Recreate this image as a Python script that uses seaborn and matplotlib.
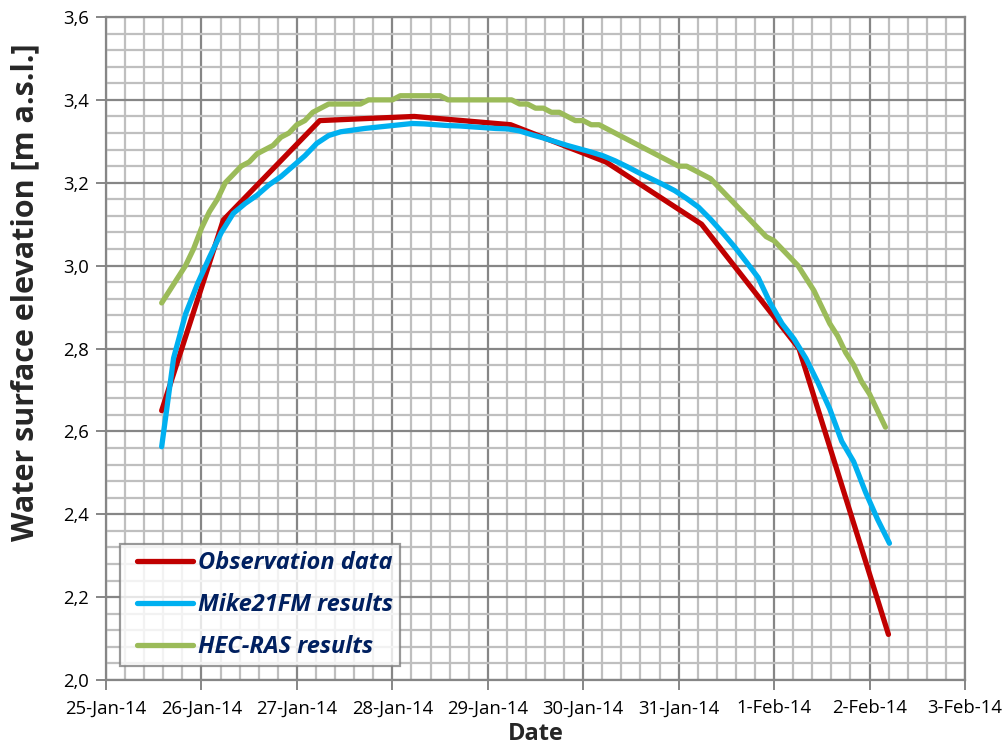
import numpy as np
import pandas as pd
import matplotlib
matplotlib.use("Agg")
import matplotlib.pyplot as plt
import matplotlib.dates as mdates
from matplotlib.lines import Line2D
from matplotlib.legend_handler import HandlerBase
from matplotlib.ticker import MultipleLocator, FuncFormatter
import seaborn as sns

# ---- data -------------------------------------------------------------
obs_times = ["2014-01-25 14:00", "2014-01-26 05:30", "2014-01-27 05:45",
             "2014-01-28 05:30", "2014-01-29 05:45", "2014-01-30 05:45",
             "2014-01-31 05:45", "2014-02-01 06:15", "2014-02-02 04:45"]
obs_level = [2.65, 3.11, 3.35, 3.36, 3.34, 3.25, 3.10, 2.80, 2.11]

# Mike21FM output, 3-hourly from 25-Jan 14:00
mike_start, mike_step = "2014-01-25 14:00", "3h"
mike_level = [2.563, 2.777, 2.883, 2.956, 3.020, 3.080, 3.126, 3.150, 3.170, 3.195,
              3.215, 3.240, 3.265, 3.295, 3.314, 3.323, 3.327, 3.331, 3.334, 3.337,
              3.340, 3.343, 3.342, 3.340, 3.338, 3.337, 3.335, 3.333, 3.331, 3.330,
              3.325, 3.316, 3.308, 3.299, 3.290, 3.282, 3.274, 3.265, 3.253, 3.239,
              3.224, 3.210, 3.196, 3.181, 3.162, 3.141, 3.112, 3.080, 3.046, 3.009,
              2.971, 2.910, 2.860, 2.823, 2.776, 2.718, 2.654, 2.576, 2.527, 2.453,
              2.388, 2.330]

# HEC-RAS output, 2-hourly from 25-Jan 14:00 (reported to 0.01 m)
hec_start, hec_step = "2014-01-25 14:00", "2h"
hec_level = [2.91, 2.94, 2.97, 3.00, 3.04, 3.09, 3.13, 3.16, 3.20, 3.22,
             3.24, 3.25, 3.27, 3.28, 3.29, 3.31, 3.32, 3.34, 3.35, 3.37,
             3.38, 3.39, 3.39, 3.39, 3.39, 3.39, 3.40, 3.40, 3.40, 3.40,
             3.41, 3.41, 3.41, 3.41, 3.41, 3.41, 3.40, 3.40, 3.40, 3.40,
             3.40, 3.40, 3.40, 3.40, 3.40, 3.39, 3.39, 3.38, 3.38, 3.37,
             3.37, 3.36, 3.35, 3.35, 3.34, 3.34, 3.33, 3.32, 3.31, 3.30,
             3.29, 3.28, 3.27, 3.26, 3.25, 3.24, 3.24, 3.23, 3.22, 3.21,
             3.19, 3.17, 3.15, 3.13, 3.11, 3.09, 3.07, 3.06, 3.04, 3.02,
             3.00, 2.97, 2.94, 2.90, 2.86, 2.83, 2.79, 2.76, 2.72, 2.69,
             2.65, 2.61]

series_names = ["Observation data", "Mike21FM results", "HEC-RAS results"]
series_colors = ["#C00000", "#00B0F0", "#9BBB59"]

frames = [
    pd.DataFrame({"Date": pd.to_datetime(obs_times), "Level": obs_level,
                  "Series": series_names[0]}),
    pd.DataFrame({"Date": pd.date_range(mike_start, periods=len(mike_level), freq=mike_step),
                  "Level": mike_level, "Series": series_names[1]}),
    pd.DataFrame({"Date": pd.date_range(hec_start, periods=len(hec_level), freq=hec_step),
                  "Level": hec_level, "Series": series_names[2]}),
]
df = pd.concat(frames, ignore_index=True)


class InsetLine(HandlerBase):
    """Legend line key with some blank space before it."""

    def __init__(self, lead=0.45, **kw):
        super().__init__(**kw)
        self.lead = lead

    def create_artists(self, legend, orig_handle, xdescent, ydescent, width, height,
                       fontsize, trans):
        y = height / 2 - ydescent
        x0 = -xdescent + self.lead * fontsize
        ln = Line2D([x0, width - xdescent], [y, y], color=orig_handle.get_color(),
                    linewidth=orig_handle.get_linewidth(), solid_capstyle="round")
        ln.set_transform(trans)
        return [ln]


# ---- figure -----------------------------------------------------------
sns.set_theme(style="white")
FONT = ["Open Sans", "DejaVu Sans"]
plt.rcParams["font.family"] = FONT

fig = plt.figure(figsize=(10.07, 7.47), dpi=100)
ax = fig.add_axes([106 / 1007, 1 - 680 / 747, 859 / 1007, 663 / 747])

sns.lineplot(data=df, x="Date", y="Level", hue="Series", hue_order=series_names,
             palette=series_colors, linewidth=3.8, sort=True, estimator=None,
             legend=False, ax=ax)
for ln in ax.get_lines():
    ln.set_solid_capstyle("round")
    ln.set_solid_joinstyle("round")
    ln.set_zorder(3)

# axes limits & ticks
ax.set_xlim(pd.Timestamp("2014-01-25"), pd.Timestamp("2014-02-03"))
ax.set_ylim(2.0, 3.6)
ax.xaxis.set_major_locator(mdates.DayLocator())
ax.xaxis.set_minor_locator(MultipleLocator(0.2))
ax.xaxis.set_major_formatter(
    FuncFormatter(lambda v, p: f"{mdates.num2date(v).day}-{mdates.num2date(v):%b-%y}"))
ax.yaxis.set_major_locator(MultipleLocator(0.2))
ax.yaxis.set_minor_locator(MultipleLocator(0.04))
ax.yaxis.set_major_formatter(FuncFormatter(lambda v, p: f"{v:.1f}".replace(".", ",")))

ax.grid(which="minor", color="#BFBFBF", linewidth=1.6)
ax.grid(which="major", color="#868686", linewidth=1.6)
ax.set_axisbelow(True)

for s in ax.spines.values():
    s.set_color("#868686")
    s.set_linewidth(1.6)

ax.tick_params(which="major", direction="out", length=7, width=1.4, color="#868686",
               labelsize=13.3, labelcolor="black", bottom=True, left=True)
ax.tick_params(axis="x", which="major", pad=7)
ax.tick_params(axis="y", which="major", pad=5)
ax.tick_params(which="minor", length=0)

ax.set_xlabel("Date", fontsize=17, fontweight="bold", labelpad=3)
ax.set_ylabel("Water surface elevation [m a.s.l.]", fontsize=22, fontweight="bold")
ax.yaxis.set_label_coords(-0.077, 0.585)

# legend
handles = [Line2D([], [], color=c, linewidth=3.8) for c in series_colors]
leg = ax.legend(handles, series_names, loc="lower left", bbox_to_anchor=(0.016, 0.021),
                handler_map={Line2D: InsetLine(lead=0.45)},
                frameon=True, fancybox=False, handlelength=2.8, handletextpad=0.22,
                borderpad=0.3, labelspacing=0.76, borderaxespad=0,
                prop={"family": FONT, "weight": "bold", "style": "italic", "size": 17})
leg.get_frame().set_edgecolor("#808080")
leg.get_frame().set_linewidth(1.6)
for t in leg.get_texts():
    t.set_color("#002060")

fig.savefig("out.png", dpi=100, facecolor="white")
